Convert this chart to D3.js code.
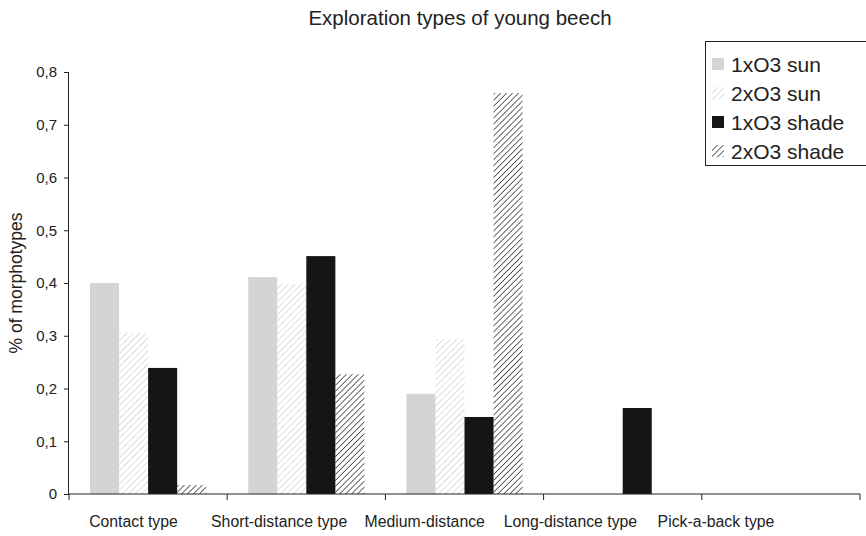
<!DOCTYPE html>
<html>
<head>
<meta charset="utf-8">
<script src="https://cdn.jsdelivr.net/npm/d3@7.9.0/dist/d3.min.js"></script>
<style>
  body { margin: 0; background: #fff; }
  svg { font-family: "Liberation Sans", Arial, sans-serif; }
</style>
</head>
<body>
<div id="chart"></div>
<script>
const categories = ["Contact type", "Short-distance type", "Medium-distance", "Long-distance type", "Pick-a-back type"];
const seriesNames = ["1xO3 sun", "2xO3 sun", "1xO3 shade", "2xO3 shade"];
const sun1 = [0.40, 0.411, 0.19, 0, 0];
const sun2 = [0.305, 0.398, 0.294, 0, 0];
const shade1 = [0.239, 0.451, 0.146, 0.163, 0];
const shade2 = [0.017, 0.227, 0.76, 0, 0];
const yTicks = [0, 0.1, 0.2, 0.3, 0.4, 0.5, 0.6, 0.7, 0.8];

const series = [sun1, sun2, shade1, shade2];

const width = 866;
const height = 536;
const margin = { top: 72, right: 6, bottom: 42, left: 69 };

const svg = d3.select("#chart")
  .append("svg")
  .attr("width", width)
  .attr("height", height);

// hatch patterns
const defs = svg.append("defs");
function hatch(id, color, spacing, strokeW) {
  const p = defs.append("pattern")
    .attr("id", id)
    .attr("patternUnits", "userSpaceOnUse")
    .attr("width", spacing)
    .attr("height", spacing)
    .attr("patternTransform", "rotate(45)");
  p.append("line")
    .attr("x1", 0).attr("y1", 0)
    .attr("x2", 0).attr("y2", spacing)
    .attr("stroke", color)
    .attr("stroke-width", strokeW);
}
hatch("hatchLight", "#cfcfcf", 4.6, 1.4);
hatch("hatchDark", "#222", 4.2, 1.4);

const fills = ["#d4d4d4", "url(#hatchLight)", "#151515", "url(#hatchDark)"];

const x0 = d3.scaleBand()
  .domain(categories)
  .range([margin.left, width - margin.right])
  .paddingInner(0)
  .paddingOuter(0);

const x1 = d3.scaleBand()
  .domain(d3.range(series.length))
  .range([21, x0.bandwidth() - 21]);

// category labels sit a bit left of the band centres, evenly spaced
const xLabel = d3.scalePoint()
  .domain(categories)
  .range([133.5, 716]);

const y = d3.scaleLinear()
  .domain([0, 0.8])
  .range([height - margin.bottom, margin.top]);

// bars
const groups = svg.append("g")
  .selectAll("g")
  .data(categories)
  .join("g")
  .attr("transform", (d) => `translate(${x0(d)},0)`);

groups.selectAll("rect")
  .data((d, i) => series.map((s, j) => ({ j, v: s[i] })))
  .join("rect")
  .attr("x", (d) => x1(d.j))
  .attr("width", x1.bandwidth())
  .attr("y", (d) => y(d.v))
  .attr("height", (d) => y(0) - y(d.v))
  .attr("fill", (d) => fills[d.j]);

// y axis
const yAxis = svg.append("g")
  .attr("transform", `translate(${margin.left},0)`)
  .call(d3.axisLeft(y).tickValues(yTicks).tickSize(5).tickPadding(7)
    .tickFormat((d) => d === 0 ? "0" : d3.format(".1f")(d).replace(".", ",")));
yAxis.select(".domain").attr("stroke", "#222").attr("d", `M-0.5,${y(0.8)}V${y(0)}`);
yAxis.selectAll("line").attr("stroke", "#222");
yAxis.selectAll("text").attr("font-size", 15).attr("fill", "#222");

// x axis
const xAxis = svg.append("g")
  .attr("transform", `translate(0,${y(0)})`);
xAxis.append("line")
  .attr("x1", margin.left).attr("x2", width - margin.right)
  .attr("stroke", "#222");
const tickXs = categories.map((c) => x0(c)).concat([x0(categories[categories.length - 1]) + x0.bandwidth()]);
xAxis.selectAll(".tick")
  .data(tickXs)
  .join("line")
  .attr("x1", (d) => d).attr("x2", (d) => d)
  .attr("y1", 0).attr("y2", 6)
  .attr("stroke", "#222");
xAxis.selectAll(".lbl")
  .data(categories)
  .join("text")
  .attr("x", (d) => xLabel(d))
  .attr("y", 33)
  .attr("text-anchor", "middle")
  .attr("font-size", 15.8)
  .attr("fill", "#222")
  .text((d) => d);

// y label
svg.append("text")
  .attr("transform", `translate(22,${(y(0) + y(0.8)) / 2}) rotate(-90)`)
  .attr("text-anchor", "middle")
  .attr("font-size", 17.5)
  .attr("fill", "#222")
  .text("% of morphotypes");

// title
svg.append("text")
  .attr("x", 460)
  .attr("y", 25)
  .attr("text-anchor", "middle")
  .attr("font-size", 20.5)
  .attr("fill", "#222")
  .text("Exploration types of young beech");

// legend
const legend = svg.append("g").attr("transform", "translate(705,41)");
legend.append("rect")
  .attr("x", 0.5).attr("y", 0.5)
  .attr("width", 170).attr("height", 124)
  .attr("fill", "#fff")
  .attr("stroke", "#222");
const items = legend.selectAll(".item")
  .data(seriesNames)
  .join("g")
  .attr("transform", (d, i) => `translate(0,${23 + i * 29})`);
items.append("rect")
  .attr("x", 7).attr("y", -6)
  .attr("width", 12).attr("height", 12)
  .attr("fill", (d, i) => fills[i]);
items.append("text")
  .attr("x", 26).attr("y", 7.5)
  .attr("font-size", 21)
  .attr("fill", "#222")
  .text((d) => d);
</script>
</body>
</html>
